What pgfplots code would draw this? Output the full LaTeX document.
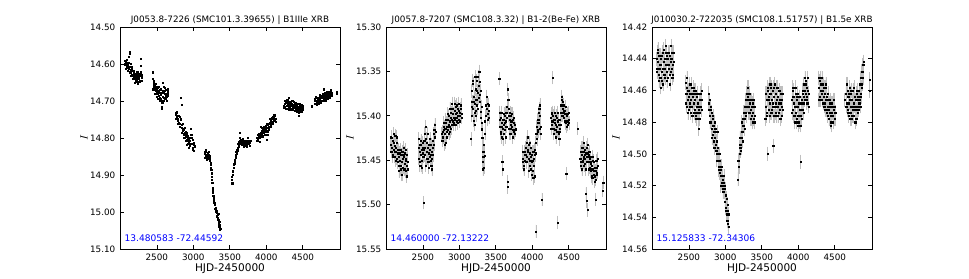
\documentclass[border=0pt]{standalone}
\usepackage{pgfplots}
\pgfplotsset{compat=1.18}
\usepackage{fontspec}
\setmainfont{DejaVu Sans}
\pgfplotsset{
  lc/.style={
    scale only axis, width=165pt, height=166.5pt,
    anchor=south west,
    xmin=1995, xmax=5010, y dir=reverse,
    xtick={2500,3000,3500,4000,4500},
    tick align=inside, major tick length=3pt,
    tick style={black, line width=0.5pt},
    axis line style={line width=0.7pt},
    ticklabel style={font=\fontsize{6.6}{7}\selectfont},
    /pgf/number format/assume math mode=true,
    /pgf/number format/1000 sep={},
    scaled y ticks=false,
    yticklabel style={/pgf/number format/fixed, /pgf/number format/fixed zerofill, /pgf/number format/precision=2},
    xlabel={HJD-2450000},
    xlabel style={font=\fontsize{7.9}{9}\selectfont, inner sep=1pt},
    xlabel shift=-2pt,
    ylabel={$I$},
    ylabel style={font=\fontsize{8}{9}\selectfont},
    ylabel shift=-5pt,
    every axis title shift=0pt,
    title style={font=\fontsize{6.6}{7}\selectfont, inner sep=1.5pt},
    clip=true,
  },
  dots/.style={only marks, mark=square*, mark size=0.42pt, draw=black, fill=black,
    mark options={draw=black, fill=black, line width=0.2pt}},
  errs/.style={dots,
    error bars/y dir=both,
    error bars/error mark=none,
    error bars/error bar style={black!25, line width=0.45pt}},
}
\begin{document}
\begin{tikzpicture}
\path[use as bounding box] (0,0) rectangle (726.75pt,208.5pt);
% ---------------- Panel 1
\begin{axis}[lc, at={(90pt,21.75pt)},
  ymin=14.5, ymax=15.1, ytick={14.5,14.6,14.7,14.8,14.9,15.0,15.1},
  title={J0053.8-7226 (SMC101.3.39655) | B1IIIe XRB}]
\addplot[dots] coordinates {
(2058,14.598)(2065,14.602)(2070,14.593)(2076,14.600)(2082,14.606)(2088,14.596)(2094,14.604)(2100,14.610)(2105,14.600)(2110,14.612)(2118,14.580)(2124,14.566)(2128,14.572)(2133,14.608)(2140,14.615)(2146,14.622)(2152,14.612)(2158,14.628)(2164,14.618)(2170,14.630)(2176,14.624)(2182,14.636)(2190,14.628)(2196,14.640)(2202,14.632)(2208,14.645)(2214,14.636)(2220,14.628)(2226,14.642)(2232,14.634)(2238,14.648)(2244,14.640)(2250,14.630)(2256,14.638)(2262,14.645)(2268,14.625)(2275,14.585)(2278,14.605)(2285,14.630)(2292,14.636)
(2443,14.640)(2446,14.622)(2450,14.650)(2456,14.660)(2462,14.655)(2468,14.668)(2474,14.662)(2480,14.672)(2486,14.660)(2492,14.675)(2498,14.668)(2504,14.680)(2510,14.672)(2516,14.664)(2522,14.685)(2528,14.676)(2534,14.690)(2540,14.670)(2546,14.682)(2552,14.694)(2558,14.678)(2564,14.700)(2570,14.715)(2572,14.705)(2578,14.688)(2584,14.650)(2588,14.662)(2594,14.676)(2600,14.690)(2606,14.680)(2612,14.672)(2618,14.686)(2624,14.694)(2630,14.680)(2636,14.688)(2642,14.676)(2648,14.684)
(2753,14.732)(2760,14.738)(2768,14.745)(2775,14.740)(2782,14.752)(2790,14.748)(2800,14.758)(2808,14.742)(2815,14.760)(2822,14.750)(2830,14.692)(2834,14.710)(2838,14.765)(2845,14.772)(2850,14.780)(2856,14.775)(2862,14.788)(2868,14.778)(2874,14.792)(2880,14.785)(2886,14.798)(2892,14.782)(2898,14.795)(2904,14.805)(2910,14.790)(2916,14.808)(2922,14.798)(2928,14.815)(2934,14.802)(2940,14.812)(2948,14.820)(2955,14.806)(2962,14.790)(2968,14.775)(2975,14.800)(2982,14.815)(2990,14.805)(2996,14.825)(3004,14.812)(3010,14.835)(3016,14.822)
(3156,14.842)(3162,14.838)(3168,14.848)(3174,14.836)(3180,14.845)(3186,14.852)(3192,14.840)(3198,14.850)(3204,14.844)(3210,14.856)(3216,14.848)(3222,14.860)(3228,14.855)(3234,14.866)(3240,14.872)(3244,14.885)(3248,14.895)(3252,14.905)(3256,14.912)(3260,14.920)(3264,14.935)(3268,14.948)(3272,14.955)(3276,14.962)(3282,14.968)(3288,14.975)(3294,14.980)(3300,14.992)(3306,15.000)(3312,14.996)(3318,15.002)(3324,15.010)(3330,15.006)(3336,15.015)(3342,15.022)(3348,15.028)(3354,15.035)(3358,15.025)(3362,15.042)(3366,15.038)(3372,15.045)
(3522,14.912)(3528,14.905)(3532,14.922)(3538,14.898)(3544,14.888)(3550,14.880)(3556,14.872)(3562,14.865)(3568,14.858)(3574,14.850)(3580,14.845)(3586,14.838)(3592,14.832)(3598,14.836)(3604,14.826)(3610,14.830)(3616,14.822)(3622,14.815)(3628,14.810)(3634,14.800)(3638,14.786)(3642,14.808)(3648,14.812)(3654,14.804)(3660,14.818)(3666,14.808)(3672,14.814)(3680,14.802)(3688,14.810)(3696,14.818)(3704,14.806)(3712,14.812)(3720,14.820)(3728,14.808)(3736,14.814)(3744,14.800)(3752,14.816)(3760,14.808)(3770,14.812)(3783,14.806)
(3870,14.798)(3878,14.792)(3886,14.802)(3894,14.795)(3900,14.788)(3906,14.800)(3912,14.792)(3918,14.785)(3924,14.770)(3930,14.788)(3936,14.780)(3942,14.792)(3948,14.782)(3954,14.776)(3960,14.786)(3966,14.778)(3972,14.790)(3978,14.772)(3984,14.782)(3990,14.775)(3996,14.768)(4002,14.780)(4008,14.805)(4012,14.790)(4018,14.772)(4024,14.765)(4030,14.776)(4036,14.762)(4042,14.770)(4048,14.758)(4054,14.766)(4060,14.752)(4066,14.760)(4072,14.748)(4080,14.756)(4088,14.742)(4096,14.750)(4104,14.745)(4112,14.752)(4120,14.740)(4128,14.748)
(4240,14.712)(4248,14.706)(4256,14.716)(4264,14.704)(4270,14.698)(4276,14.712)(4282,14.720)(4288,14.708)(4294,14.702)(4300,14.714)(4306,14.708)(4312,14.692)(4318,14.710)(4324,14.718)(4330,14.704)(4336,14.712)(4342,14.722)(4348,14.708)(4354,14.700)(4360,14.714)(4366,14.720)(4372,14.710)(4378,14.716)(4384,14.706)(4390,14.718)(4396,14.724)(4402,14.712)(4408,14.708)(4414,14.720)(4420,14.714)(4426,14.726)(4432,14.716)(4438,14.722)(4444,14.740)(4448,14.730)(4454,14.718)(4460,14.712)(4466,14.724)(4474,14.716)(4482,14.720)(4490,14.710)(4498,14.714)
(4618,14.714)(4660,14.700)(4668,14.694)(4674,14.706)(4680,14.698)(4686,14.690)(4692,14.704)(4698,14.696)(4704,14.708)(4710,14.700)(4716,14.692)(4722,14.702)(4728,14.696)(4734,14.688)(4740,14.698)(4746,14.704)(4752,14.692)(4758,14.686)(4764,14.698)(4770,14.690)(4776,14.680)(4780,14.668)(4786,14.694)(4792,14.688)(4798,14.698)(4804,14.684)(4810,14.692)(4816,14.700)(4822,14.688)(4828,14.682)(4834,14.694)(4840,14.686)(4846,14.678)(4852,14.690)(4858,14.684)(4864,14.676)(4870,14.688)(4876,14.680)(4882,14.672)(4888,14.684)(4894,14.678)(4960,14.674)(4963,14.680)
(2062,14.590)(2074,14.612)(2086,14.588)(2098,14.618)(2112,14.596)(2122,14.622)(2136,14.598)(2148,14.632)(2160,14.606)(2172,14.640)(2184,14.618)(2194,14.650)(2206,14.626)(2218,14.648)(2230,14.622)(2242,14.652)(2254,14.626)(2266,14.648)(2280,14.622)(2290,14.644)
(2448,14.668)(2458,14.645)(2470,14.680)(2482,14.652)(2494,14.688)(2506,14.660)(2518,14.694)(2530,14.662)(2542,14.698)(2556,14.668)(2566,14.720)(2576,14.672)(2590,14.698)(2602,14.664)(2614,14.694)(2626,14.670)(2638,14.698)(2646,14.668)
(2758,14.748)(2772,14.730)(2786,14.760)(2798,14.740)(2812,14.770)(2826,14.748)(2842,14.785)(2854,14.762)(2866,14.800)(2878,14.772)(2890,14.808)(2902,14.786)(2914,14.818)(2926,14.795)(2938,14.826)(2952,14.800)(2966,14.815)(2980,14.790)(2994,14.830)(3008,14.818)
(3160,14.852)(3172,14.832)(3184,14.858)(3196,14.845)(3208,14.838)(3220,14.852)(3238,14.880)(3250,14.920)(3262,14.945)(3270,14.940)(3280,14.975)(3292,14.990)(3304,14.988)(3316,15.012)(3328,15.020)(3340,15.005)(3352,15.040)(3364,15.048)
(3526,14.922)(3540,14.892)(3552,14.870)(3566,14.868)(3578,14.852)(3590,14.842)(3602,14.834)(3614,14.815)(3626,14.820)(3640,14.815)(3656,14.818)(3670,14.804)(3686,14.822)(3700,14.812)(3716,14.806)(3732,14.822)(3748,14.812)(3766,14.820)
(3874,14.806)(3890,14.790)(3904,14.810)(3920,14.795)(3934,14.772)(3950,14.795)(3964,14.770)(3980,14.792)(3994,14.780)(4006,14.762)(4020,14.782)(4034,14.770)(4050,14.748)(4064,14.770)(4078,14.745)(4092,14.760)(4108,14.738)(4124,14.755)
(4244,14.718)(4258,14.700)(4272,14.720)(4286,14.696)(4300,14.722)(4314,14.702)(4328,14.724)(4344,14.700)(4358,14.722)(4372,14.702)(4386,14.726)(4400,14.704)(4416,14.728)(4430,14.708)(4446,14.732)(4462,14.706)(4478,14.728)(4494,14.722)
(4664,14.706)(4678,14.688)(4692,14.710)(4706,14.690)(4720,14.706)(4736,14.684)(4750,14.700)(4766,14.682)(4782,14.700)(4796,14.678)(4812,14.696)(4826,14.676)(4842,14.694)(4856,14.674)(4872,14.690)(4886,14.670)
};
\node[anchor=west, text=blue, font=\fontsize{6.8}{8}\selectfont, inner sep=0pt] at (axis description cs:0.02,0.047) {13.480583 -72.44592};
\end{axis}
% ---------------- Panel 2
\begin{axis}[lc, at={(289.5pt,21.75pt)},
  ymin=15.3, ymax=15.55, ytick={15.30,15.35,15.40,15.45,15.50,15.55},
  title={J0057.8-7207 (SMC108.3.32) | B1-2(Be-Fe) XRB}]
\addplot[errs, error bars/y fixed=0.0075] coordinates {
(2060,15.432)(2066,15.440)(2072,15.425)(2078,15.436)(2084,15.444)(2090,15.428)(2096,15.438)(2102,15.430)(2108,15.446)(2114,15.434)(2120,15.422)(2126,15.440)(2132,15.436)(2138,15.448)(2144,15.430)(2150,15.442)(2156,15.452)(2162,15.438)(2168,15.446)(2174,15.456)(2180,15.442)(2186,15.450)(2192,15.460)(2198,15.444)(2204,15.466)(2210,15.452)(2216,15.440)(2222,15.448)(2228,15.458)(2234,15.436)(2240,15.446)(2246,15.454)(2252,15.442)(2258,15.450)(2264,15.462)(2270,15.448)(2276,15.456)(2282,15.444)(2288,15.452)
(2438,15.436)(2444,15.448)(2450,15.440)(2456,15.452)(2462,15.432)(2468,15.444)(2474,15.456)(2480,15.438)(2486,15.450)(2492,15.442)(2498,15.430)(2504,15.446)(2507,15.498)(2512,15.438)(2518,15.428)(2524,15.420)(2530,15.436)(2536,15.412)(2542,15.426)(2548,15.440)(2554,15.430)(2560,15.448)(2566,15.436)(2572,15.452)(2578,15.442)(2584,15.432)(2590,15.446)(2596,15.438)(2602,15.450)(2608,15.444)(2614,15.456)(2620,15.440)(2626,15.448)(2632,15.436)(2640,15.428)(2648,15.420)(2655,15.416)(2662,15.424)(2670,15.418)
(2759,15.420)(2766,15.418)(2774,15.424)(2782,15.416)(2790,15.412)(2798,15.420)(2806,15.414)(2812,15.430)(2818,15.408)(2824,15.418)(2830,15.412)(2836,15.404)(2842,15.416)(2848,15.410)(2854,15.400)(2860,15.412)(2866,15.406)(2872,15.418)(2878,15.402)(2884,15.396)(2890,15.410)(2896,15.404)(2902,15.392)(2908,15.406)(2914,15.398)(2920,15.410)(2926,15.402)(2932,15.394)(2938,15.404)(2944,15.398)(2950,15.390)(2956,15.402)(2962,15.396)(2968,15.406)(2974,15.392)(2980,15.400)(2986,15.394)(2994,15.404)(3002,15.396)(3010,15.400)(3018,15.392)(3026,15.402)(3033,15.398)
(3160,15.426)(3166,15.372)(3170,15.400)(3176,15.384)(3182,15.392)(3188,15.364)(3194,15.405)(3200,15.378)(3206,15.396)(3212,15.386)(3218,15.370)(3224,15.394)(3230,15.382)(3236,15.360)(3242,15.388)(3248,15.374)(3254,15.356)(3260,15.380)(3266,15.366)(3272,15.350)(3278,15.376)(3284,15.384)(3290,15.395)(3296,15.402)(3302,15.390)(3308,15.415)(3314,15.440)(3320,15.452)(3326,15.446)(3332,15.432)(3338,15.458)(3344,15.445)(3350,15.420)(3358,15.400)(3366,15.388)(3374,15.392)(3382,15.398)(3390,15.386)(3398,15.394)(3405,15.402)
(3545,15.358)(3550,15.396)(3556,15.412)(3562,15.402)(3568,15.418)(3574,15.408)(3580,15.424)(3586,15.452)(3590,15.460)(3594,15.414)(3600,15.404)(3606,15.420)(3612,15.410)(3618,15.400)(3624,15.416)(3630,15.406)(3636,15.396)(3642,15.412)(3648,15.402)(3654,15.390)(3658,15.370)(3660,15.474)(3664,15.480)(3668,15.382)(3674,15.400)(3680,15.414)(3686,15.404)(3692,15.396)(3698,15.410)(3704,15.420)(3710,15.406)(3716,15.398)(3722,15.412)(3728,15.404)(3734,15.416)(3740,15.408)(3748,15.418)(3756,15.410)(3764,15.416)(3772,15.414)
(3865,15.452)(3872,15.448)(3880,15.456)(3888,15.440)(3896,15.450)(3904,15.436)(3912,15.444)(3920,15.430)(3928,15.446)(3934,15.424)(3940,15.438)(3946,15.448)(3952,15.432)(3958,15.456)(3964,15.442)(3970,15.450)(3976,15.436)(3982,15.460)(3988,15.444)(3994,15.452)(4000,15.440)(4006,15.462)(4012,15.470)(4018,15.448)(4024,15.456)(4030,15.438)(4036,15.444)(4042,15.430)(4048,15.530)(4052,15.420)(4058,15.412)(4064,15.426)(4070,15.404)(4076,15.418)(4082,15.396)(4088,15.408)(4094,15.392)(4100,15.414)(4106,15.400)(4112,15.420)(4131,15.494)
(4254,15.402)(4260,15.410)(4266,15.398)(4272,15.406)(4276,15.357)(4282,15.414)(4288,15.404)(4294,15.420)(4300,15.408)(4306,15.396)(4312,15.416)(4318,15.410)(4324,15.424)(4330,15.412)(4336,15.402)(4342,15.418)(4345,15.520)(4350,15.406)(4356,15.420)(4362,15.410)(4368,15.426)(4374,15.414)(4380,15.404)(4386,15.396)(4392,15.388)(4398,15.400)(4404,15.378)(4410,15.392)(4416,15.384)(4422,15.396)(4428,15.388)(4434,15.402)(4440,15.394)(4446,15.406)(4452,15.398)(4458,15.408)(4464,15.465)(4470,15.400)(4478,15.406)(4486,15.398)(4495,15.404)(4503,15.408)
(4619,15.414)
(4656,15.448)(4662,15.440)(4668,15.456)(4674,15.444)(4680,15.460)(4686,15.436)(4692,15.452)(4698,15.446)(4704,15.430)(4710,15.448)(4716,15.438)(4722,15.454)(4728,15.442)(4734,15.488)(4740,15.496)(4746,15.436)(4752,15.446)(4756,15.506)(4760,15.432)(4766,15.444)(4772,15.452)(4778,15.440)(4784,15.458)(4790,15.448)(4796,15.462)(4802,15.454)(4808,15.468)(4814,15.456)(4820,15.446)(4826,15.470)(4832,15.460)(4838,15.452)(4844,15.466)(4850,15.474)(4856,15.458)(4862,15.494)(4868,15.462)(4874,15.450)(4880,15.458)(4886,15.464)(4892,15.456)
(4966,15.484)(4970,15.475)
};
\addplot[errs, error bars/y fixed=0.0075] coordinates {
(2064,15.424)(2080,15.446)(2094,15.420)(2110,15.440)(2124,15.450)(2140,15.424)(2156,15.438)(2172,15.462)(2188,15.438)(2200,15.456)(2214,15.466)(2230,15.444)(2244,15.460)(2260,15.438)(2274,15.468)(2286,15.460)
(2442,15.426)(2458,15.456)(2472,15.428)(2488,15.458)(2502,15.436)(2520,15.444)(2536,15.456)(2550,15.448)(2564,15.420)(2580,15.458)(2596,15.426)(2610,15.432)(2624,15.460)(2638,15.444)(2652,15.432)(2666,15.410)
(2764,15.428)(2780,15.408)(2796,15.432)(2810,15.404)(2826,15.424)(2840,15.398)(2856,15.420)(2870,15.392)(2886,15.414)(2900,15.386)(2916,15.408)(2930,15.386)(2946,15.410)(2960,15.388)(2976,15.408)(2990,15.386)(3006,15.406)(3022,15.388)
(3164,15.390)(3178,15.360)(3192,15.384)(3204,15.410)(3216,15.356)(3228,15.400)(3240,15.372)(3252,15.392)(3264,15.380)(3276,15.362)(3288,15.372)(3300,15.408)(3312,15.425)(3324,15.460)(3336,15.440)(3352,15.406)(3370,15.378)(3386,15.404)(3400,15.388)
(3548,15.404)(3560,15.420)(3572,15.396)(3584,15.412)(3598,15.426)(3610,15.398)(3622,15.408)(3634,15.424)(3646,15.396)(3670,15.392)(3684,15.420)(3696,15.400)(3708,15.414)(3720,15.398)(3732,15.424)(3746,15.402)(3760,15.420)
(3868,15.440)(3884,15.460)(3900,15.444)(3916,15.452)(3932,15.440)(3948,15.462)(3962,15.430)(3978,15.446)(3992,15.466)(4004,15.450)(4016,15.440)(4028,15.468)(4040,15.442)(4056,15.420)(4068,15.416)(4080,15.408)(4092,15.404)(4104,15.388)(4116,15.412)
(4258,15.414)(4270,15.396)(4284,15.400)(4298,15.414)(4310,15.404)(4322,15.400)(4334,15.418)(4348,15.396)(4360,15.404)(4372,15.418)(4384,15.410)(4396,15.382)(4408,15.400)(4420,15.388)(4432,15.394)(4444,15.398)(4456,15.390)(4468,15.412)(4482,15.410)(4498,15.396)
(4660,15.452)(4672,15.436)(4684,15.450)(4696,15.440)(4708,15.456)(4720,15.444)(4732,15.460)(4744,15.452)(4758,15.442)(4770,15.460)(4782,15.446)(4794,15.452)(4806,15.460)(4818,15.470)(4830,15.450)(4842,15.462)(4854,15.468)(4866,15.472)(4880,15.466)(4890,15.448)
};
\node[anchor=west, text=blue, font=\fontsize{6.8}{8}\selectfont, inner sep=0pt] at (axis description cs:0.02,0.047) {14.460000 -72.13222};
\end{axis}
% ---------------- Panel 3
\begin{axis}[lc, at={(489pt,21.75pt)},
  ymin=14.42, ymax=14.56, ytick={14.42,14.44,14.46,14.48,14.50,14.52,14.54,14.56},
  title={J010030.2-722035 (SMC108.1.51757) | B1.5e XRB}]
\addplot[errs, error bars/y fixed=0.0045] coordinates {
(2059,14.440)(2065,14.446)(2071,14.436)(2077,14.442)(2083,14.450)(2089,14.438)(2095,14.446)(2101,14.452)(2107,14.444)(2113,14.458)(2119,14.440)(2125,14.448)(2131,14.454)(2137,14.436)(2143,14.446)(2149,14.442)(2155,14.434)(2161,14.450)(2167,14.440)(2173,14.446)(2179,14.432)(2185,14.444)(2191,14.438)(2197,14.448)(2203,14.440)(2209,14.452)(2215,14.436)(2221,14.444)(2227,14.446)(2233,14.438)(2239,14.450)(2245,14.442)(2251,14.448)(2257,14.440)(2263,14.446)(2269,14.436)(2275,14.444)(2281,14.450)(2287,14.442)
(2457,14.455)(2463,14.462)(2469,14.470)(2475,14.458)(2481,14.466)(2487,14.460)(2493,14.472)(2499,14.464)(2505,14.456)(2511,14.468)(2517,14.462)(2523,14.474)(2529,14.466)(2535,14.458)(2541,14.470)(2547,14.464)(2553,14.476)(2559,14.462)(2565,14.468)(2571,14.460)(2577,14.472)(2583,14.466)(2589,14.476)(2595,14.462)(2601,14.470)(2607,14.464)(2613,14.474)(2619,14.468)(2625,14.478)(2630,14.484)(2636,14.472)(2642,14.466)(2648,14.474)(2654,14.462)(2660,14.470)(2668,14.466)(2675,14.472)
(2768,14.468)(2776,14.472)(2784,14.466)(2790,14.476)(2796,14.470)(2802,14.480)(2808,14.474)(2814,14.484)(2820,14.478)(2826,14.488)(2832,14.482)(2838,14.492)(2844,14.486)(2850,14.480)(2856,14.490)(2862,14.494)(2868,14.486)(2874,14.498)(2880,14.492)(2886,14.500)(2892,14.496)(2898,14.504)(2904,14.500)(2910,14.508)(2916,14.504)(2922,14.512)(2928,14.508)(2934,14.514)(2940,14.510)(2946,14.518)(2952,14.514)(2958,14.520)(2964,14.516)(2970,14.522)(2976,14.518)(2982,14.524)(2988,14.520)(2994,14.530)(3000,14.526)(3006,14.534)(3012,14.528)(3018,14.538)(3024,14.542)(3030,14.536)(3036,14.544)(3042,14.538)
(3172,14.516)(3178,14.508)(3184,14.504)(3190,14.500)(3196,14.496)(3202,14.494)(3208,14.498)(3214,14.490)(3220,14.486)(3226,14.490)(3232,14.482)(3238,14.486)(3244,14.478)(3250,14.482)(3256,14.474)(3262,14.478)(3268,14.470)(3274,14.474)(3280,14.466)(3286,14.470)(3292,14.462)(3298,14.466)(3304,14.458)(3310,14.464)(3316,14.470)(3322,14.462)(3328,14.468)(3334,14.474)(3340,14.466)(3346,14.472)(3352,14.478)(3358,14.470)(3364,14.476)(3370,14.468)(3378,14.474)(3386,14.478)(3394,14.470)(3402,14.476)
(3545,14.478)(3551,14.470)(3557,14.462)(3563,14.474)(3569,14.466)(3577,14.500)(3583,14.460)(3589,14.472)(3595,14.464)(3601,14.456)(3607,14.468)(3613,14.462)(3619,14.474)(3625,14.458)(3631,14.466)(3637,14.472)(3643,14.460)(3649,14.468)(3655,14.495)(3661,14.476)(3667,14.464)(3673,14.456)(3679,14.470)(3685,14.462)(3691,14.474)(3697,14.466)(3703,14.458)(3709,14.470)(3715,14.464)(3721,14.476)(3727,14.468)(3733,14.460)(3739,14.472)(3745,14.466)(3751,14.478)(3757,14.468)(3763,14.462)(3769,14.470)(3776,14.466)(3784,14.472)
(3911,14.466)(3917,14.458)(3923,14.472)(3929,14.464)(3935,14.476)(3941,14.468)(3947,14.480)(3953,14.470)(3959,14.462)(3965,14.474)(3971,14.466)(3977,14.478)(3983,14.470)(3989,14.462)(3995,14.476)(4001,14.468)(4007,14.480)(4013,14.472)(4019,14.464)(4025,14.476)(4030,14.505)(4036,14.468)(4042,14.478)(4048,14.466)(4054,14.472)(4060,14.460)(4066,14.468)(4072,14.456)(4078,14.464)(4084,14.460)(4090,14.452)(4096,14.462)(4102,14.456)(4108,14.464)(4114,14.458)(4120,14.466)(4126,14.460)(4132,14.468)(4138,14.462)
(4276,14.466)(4282,14.458)(4288,14.464)(4294,14.454)(4300,14.460)(4306,14.466)(4312,14.456)(4318,14.462)(4324,14.452)(4330,14.460)(4336,14.468)(4342,14.458)(4348,14.464)(4354,14.470)(4360,14.462)(4366,14.468)(4372,14.458)(4378,14.466)(4384,14.472)(4390,14.464)(4396,14.470)(4402,14.476)(4408,14.466)(4414,14.472)(4420,14.478)(4426,14.468)(4432,14.474)(4438,14.480)(4444,14.470)(4450,14.476)(4456,14.468)(4462,14.474)(4468,14.470)(4474,14.476)(4480,14.466)(4486,14.472)(4492,14.478)(4498,14.470)(4504,14.474)
(4629,14.466)(4652,14.462)(4658,14.456)(4664,14.468)(4670,14.460)(4676,14.472)(4682,14.464)(4688,14.476)(4694,14.468)(4700,14.458)(4706,14.466)(4712,14.474)(4718,14.462)(4724,14.470)(4730,14.478)(4736,14.466)(4742,14.472)(4748,14.460)(4754,14.468)(4760,14.476)(4766,14.464)(4772,14.470)(4778,14.480)(4784,14.466)(4790,14.472)(4796,14.462)(4802,14.470)(4808,14.466)(4814,14.474)(4820,14.464)(4826,14.470)(4832,14.460)(4838,14.466)(4844,14.456)(4850,14.462)(4856,14.452)(4862,14.458)(4868,14.448)(4874,14.452)(4880,14.444)(4886,14.448)(4892,14.444)
(4976,14.453)(4978,14.460)
};
\addplot[errs, error bars/y fixed=0.0045] coordinates {
(2062,14.448)(2076,14.434)(2090,14.454)(2104,14.438)(2118,14.452)(2130,14.438)(2144,14.456)(2158,14.442)(2172,14.452)(2186,14.436)(2200,14.454)(2214,14.444)(2228,14.436)(2242,14.456)(2256,14.432)(2270,14.452)(2284,14.436)
(2460,14.468)(2474,14.452)(2488,14.474)(2502,14.460)(2516,14.470)(2530,14.456)(2544,14.476)(2558,14.458)(2572,14.474)(2586,14.460)(2600,14.478)(2614,14.462)(2628,14.470)(2642,14.478)(2656,14.466)(2670,14.460)
(2772,14.462)(2788,14.480)(2800,14.472)(2816,14.490)(2830,14.476)(2846,14.496)(2860,14.484)(2876,14.504)(2890,14.486)(2906,14.510)(2920,14.500)(2936,14.520)(2950,14.508)(2966,14.524)(2980,14.514)(2996,14.522)(3010,14.536)(3026,14.532)(3040,14.546)
(3176,14.504)(3188,14.508)(3200,14.490)(3212,14.496)(3224,14.480)(3236,14.492)(3248,14.474)(3260,14.484)(3272,14.466)(3284,14.476)(3296,14.470)(3308,14.458)(3320,14.474)(3332,14.462)(3344,14.478)(3356,14.466)(3368,14.480)(3384,14.466)(3398,14.480)
(3548,14.462)(3560,14.476)(3574,14.458)(3588,14.466)(3602,14.476)(3616,14.456)(3630,14.474)(3644,14.470)(3658,14.458)(3672,14.476)(3686,14.468)(3700,14.476)(3714,14.458)(3728,14.474)(3742,14.460)(3756,14.462)(3770,14.476)(3784,14.462)
(3914,14.474)(3928,14.460)(3942,14.476)(3956,14.458)(3970,14.480)(3984,14.464)(3998,14.482)(4012,14.464)(4026,14.482)(4040,14.472)(4054,14.462)(4068,14.474)(4082,14.466)(4096,14.454)(4110,14.468)(4124,14.452)(4136,14.470)
(4280,14.452)(4294,14.466)(4308,14.452)(4322,14.466)(4336,14.456)(4350,14.458)(4364,14.472)(4378,14.456)(4392,14.474)(4406,14.462)(4420,14.470)(4434,14.466)(4448,14.482)(4462,14.468)(4476,14.480)(4490,14.466)(4502,14.478)
(4656,14.470)(4668,14.456)(4682,14.474)(4696,14.462)(4710,14.478)(4722,14.460)(4736,14.476)(4750,14.470)(4764,14.458)(4778,14.472)(4792,14.478)(4806,14.460)(4820,14.472)(4834,14.468)(4848,14.470)(4860,14.464)(4872,14.456)(4884,14.452)(4894,14.442)
};
\node[anchor=west, text=blue, font=\fontsize{6.8}{8}\selectfont, inner sep=0pt] at (axis description cs:0.02,0.047) {15.125833 -72.34306};
\end{axis}
\end{tikzpicture}
\end{document}
